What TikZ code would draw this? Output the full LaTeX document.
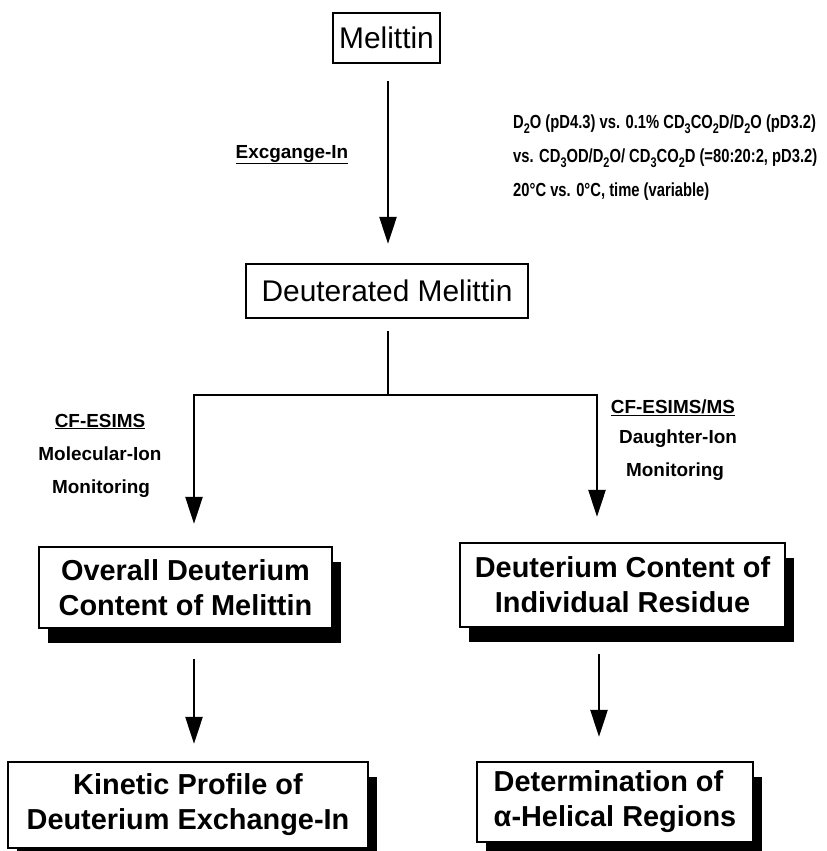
\documentclass[tikz,border=0pt]{standalone}
\usepackage{fontspec}
\setmainfont{Liberation Sans}
\newfontfamily\condfont[FakeStretch=0.78]{Liberation Sans}
\newcommand{\lowsub}[1]{\raisebox{-0.28em}{\fontsize{14}{14}\selectfont #1}}
\usetikzlibrary{arrows.meta,shadows}
\begin{document}
\begin{tikzpicture}[x=1bp,y=-1bp,
  ln/.style={line width=2.5bp},
  arr/.style={line width=2.5bp, -{Triangle[length=27bp,width=17bp]}},
  plainbox/.style={draw, line width=2.3bp, fill=white, inner sep=0pt, align=center,
    font=\fontsize{30}{34}\selectfont},
  shbox/.style={draw, line width=2.3bp, fill=white, inner sep=0pt, align=center,
    font=\bfseries\fontsize{29}{35}\selectfont,
    general shadow={fill=black, shadow xshift=9bp, shadow yshift=-15bp}},
  lab/.style={inner sep=0pt, anchor=base, font=\bfseries\fontsize{19}{22}\selectfont},
  cond/.style={inner sep=0pt, anchor=base west, font=\condfont\bfseries\fontsize{19}{22}\selectfont}
]
\useasboundingbox (0,0) rectangle (827,851);

% boxes
\node[plainbox, minimum width=107bp, minimum height=50bp] (mel) at (386.5,38) {Melittin};
\node[plainbox, minimum width=282bp, minimum height=54bp] (deut) at (387,291) {Deuterated Melittin};
\node[shbox, minimum width=293bp, minimum height=81bp] (ov) at (185.5,587.5) {Overall Deuterium\\Content of Melittin};
\node[shbox, minimum width=325bp, minimum height=84bp] (dc) at (622.5,585) {Deuterium Content of\\Individual Residue};
\node[shbox, minimum width=360bp, minimum height=86bp] (kin) at (188,805) {Kinetic Profile of\\Deuterium Exchange-In};
\node[shbox, minimum width=276bp, minimum height=80bp, align=left] (det) at (615,802) {Determination of\\α-Helical Regions};

% labels
\node[lab] (exc) at (292,158) {\underline{Excgange-In}};
\node[cond] (c1) at (513,128) {D\lowsub{2}O (pD4.3) vs. 0.1\% CD\lowsub{3}CO\lowsub{2}D/D\lowsub{2}O (pD3.2)};
\node[cond] (c2) at (513,162) {vs. CD\lowsub{3}OD/D\lowsub{2}O/ CD\lowsub{3}CO\lowsub{2}D (=80:20:2, pD3.2)};
\node[cond] (c3) at (513,196) {20°C vs. 0°C, time (variable)};

\node[lab] (l1) at (100,427) {\underline{CF-ESIMS}};
\node[lab] (l2) at (100,460) {Molecular-Ion};
\node[lab] (l3) at (101,493) {Monitoring};
\node[lab] (r1) at (673,413) {\underline{CF-ESIMS/MS}};
\node[lab] (r2) at (678,443) {Daughter-Ion};
\node[lab] (r3) at (675,476) {Monitoring};

% connectors
\coordinate (split) at (388,395);
\coordinate (jl) at (194,395);
\coordinate (jr) at (597,395);
\coordinate (xl) at (194,0);
\coordinate (xr) at (599,0);

\draw[arr, shorten <=17bp, shorten >=19bp] (mel.south -| split) -- (deut.north -| split);
\draw[ln, shorten <=12bp] (deut.south -| split) -- (split);
\draw[arr, line join=miter, shorten >=22bp] (jr) -- (jl) -- (jl |- ov.north);
\draw[arr, line join=miter, shorten >=25bp] (jl) -- (jr) -- (jr |- dc.north);
\draw[arr, shorten <=30bp, shorten >=17bp] (xl |- ov.south) -- (xl |- kin.north);
\draw[arr, shorten <=26bp, shorten >=24bp] (xr |- dc.south) -- (xr |- det.north);
\end{tikzpicture}
\end{document}
